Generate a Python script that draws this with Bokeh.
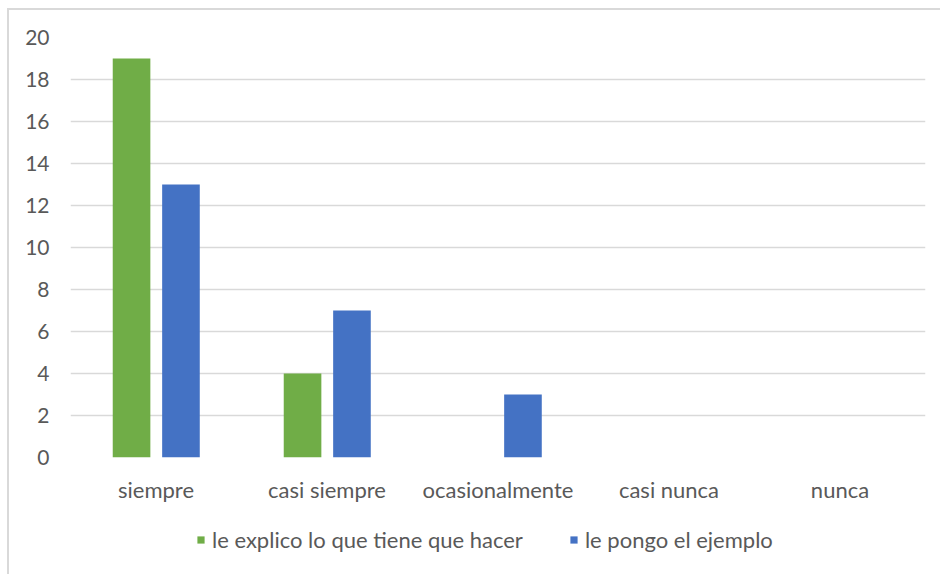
from bokeh.plotting import figure
from bokeh.layouts import column
from bokeh.models import ColumnDataSource, Legend, LegendItem, Range1d, SingleIntervalTicker
from bokeh.transform import dodge
from bokeh.embed import file_html
from bokeh.resources import INLINE

# Survey answers per frequency category
categories = ["siempre", "casi siempre", "ocasionalmente", "casi nunca", "nunca"]
explico = [19, 4, 0, 0, 0]
ejemplo = [13, 7, 3, 0, 0]
series_names = ["le explico lo que tiene que hacer", "le pongo el ejemplo"]

GREEN = "#70ad47"
BLUE = "#4472c4"
TEXT = "#595959"
GRID = "#d9d9d9"
FONT = "Lato"

source = ColumnDataSource(dict(cat=categories, explico=explico, ejemplo=ejemplo))

p = figure(
    x_range=categories,
    y_range=Range1d(0, 20),
    width=931, height=497,
    output_backend="svg",
    toolbar_location=None,
    min_border_left=61, min_border_right=15,
    min_border_top=27, min_border_bottom=50,
)
p.outline_line_color = None

p.vbar(x=dodge("cat", -0.143, range=p.x_range), top="explico", width=0.22,
       source=source, fill_color=GREEN, line_color=None)
p.vbar(x=dodge("cat", 0.146, range=p.x_range), top="ejemplo", width=0.22,
       source=source, fill_color=BLUE, line_color=None)

# axes
p.yaxis.ticker = SingleIntervalTicker(interval=2)
for ax in (p.xaxis, p.yaxis):
    ax.axis_line_color = None
    ax.major_tick_line_color = None
    ax.minor_tick_line_color = None
    ax.major_label_text_color = TEXT
    ax.major_label_text_font = FONT
p.xaxis.major_label_text_font_size = "22px"
p.yaxis.major_label_text_font_size = "21px"
p.yaxis.major_label_standoff = 15
p.xaxis.major_label_standoff = 12

p.xgrid.grid_line_color = None
p.ygrid.grid_line_color = GRID
p.ygrid.grid_line_width = 1.5
p.ygrid.ticker = SingleIntervalTicker(interval=2)

# legend strip below the chart; its swatch renderers sit outside the visible range
lf = figure(
    width=931, height=67,
    x_range=Range1d(0, 1), y_range=Range1d(0, 1),
    x_axis_type=None, y_axis_type=None,
    output_backend="svg",
    toolbar_location=None,
    min_border=0,
)
lf.outline_line_color = None
lf.xgrid.grid_line_color = None
lf.ygrid.grid_line_color = None
swatch = ColumnDataSource(dict(x=[-5], top=[0]))
g1 = lf.vbar(x="x", top="top", width=0.1, source=swatch, fill_color=GREEN, line_color=None)
g2 = lf.vbar(x="x", top="top", width=0.1, source=swatch, fill_color=BLUE, line_color=None)

legend = Legend(
    items=[LegendItem(label=series_names[0], renderers=[g1]),
           LegendItem(label=series_names[1], renderers=[g2])],
    orientation="horizontal",
    location=(126, 21),
    label_text_font=FONT,
    label_text_font_size="22px",
    label_text_color=TEXT,
    glyph_width=9, glyph_height=9,
    label_standoff=7,
    spacing=46,
    padding=0,
    margin=0,
    border_line_color=None,
    background_fill_alpha=0,
)
lf.add_layout(legend, "center")

layout = column(p, lf, spacing=0, margin=(8, 0, 0, 7))
layout.styles = {"border-left": "2px solid #d9d9d9", "border-top": "2px solid #d9d9d9"}

open("out.html", "w").write(file_html(layout, INLINE))
